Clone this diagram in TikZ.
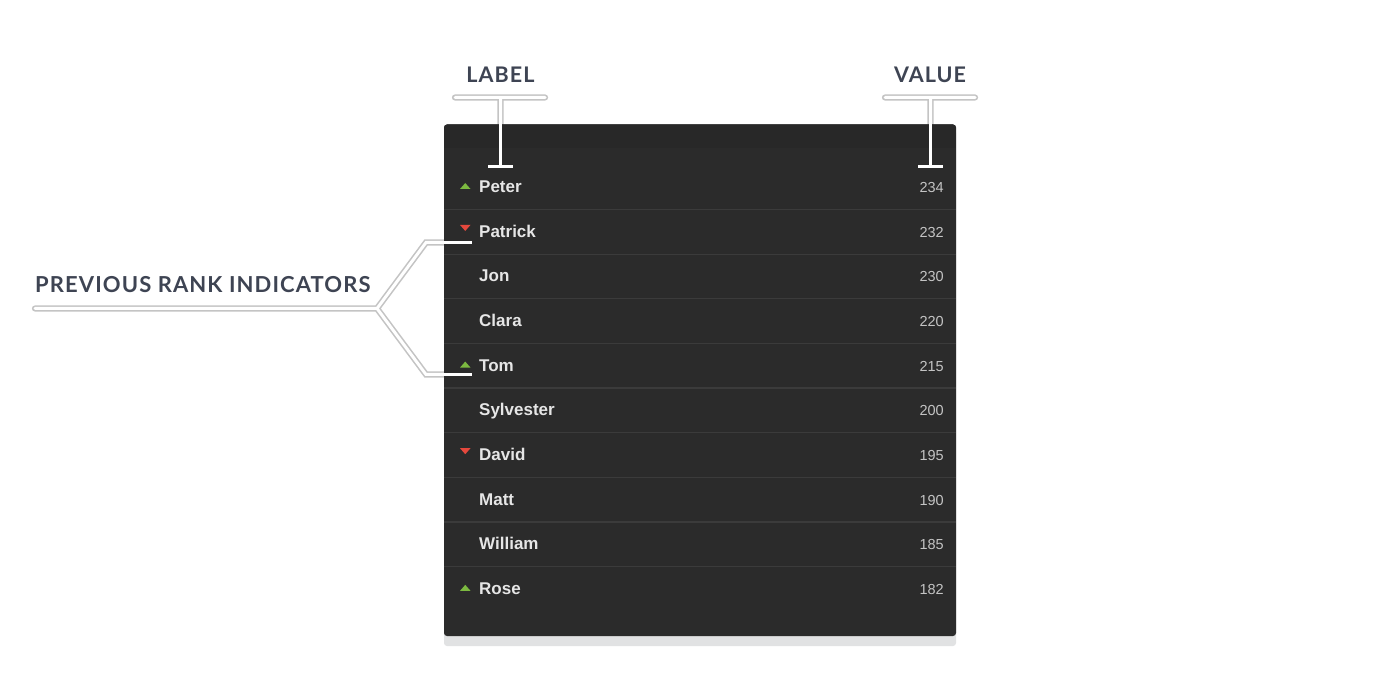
\documentclass[tikz,border=0pt]{standalone}
\usepackage{fontspec}
\setmainfont{Liberation Sans}
\newfontfamily\headfont{Lato}[LetterSpace=5.0]
\definecolor{panel}{HTML}{2B2B2B}
\definecolor{topband}{HTML}{282828}
\definecolor{sepc}{HTML}{3B3B3B}
\definecolor{headtxt}{HTML}{3E4453}
\definecolor{bracket}{HTML}{C4C4C4}
\definecolor{upg}{HTML}{7CB940}
\definecolor{downr}{HTML}{E5483D}
\definecolor{nametxt}{HTML}{E6E6E6}
\definecolor{valtxt}{HTML}{C4C4C4}
\definecolor{shadowc}{HTML}{E1E2E3}
\tikzset{
  brk/.style={line width=6.2pt, draw=bracket, line cap=round, line join=miter},
  brkin/.style={line width=3.0pt, draw=white, line cap=round, line join=miter},
  solidw/.style={line width=3.3pt, draw=white},
  head/.style={text=headtxt, inner sep=0pt, font=\headfont\bfseries\fontsize{21.5}{21.5}\selectfont},
  namelbl/.style={text=nametxt, inner sep=0pt, anchor=base west, font=\bfseries\fontsize{17}{17}\selectfont},
  vallbl/.style={text=valtxt, inner sep=0pt, anchor=base east, font=\fontsize{14.5}{14.5}\selectfont},
  rowsep/.style={draw=sepc, line width=1.2pt},
  uptri/.style={fill=upg},
  downtri/.style={fill=downr},
}
\begin{document}
\begin{tikzpicture}[x=1pt,y=-1pt]
\useasboundingbox (0,0) rectangle (1400,700);
\fill[white] (0,0) rectangle (1400,700);

% header labels
\node[head, anchor=base] (lab) at (500.5,82.5) {LABEL};
\node[head, anchor=base] (val) at (930,82.5) {VALUE};
\node[head, anchor=base west, font=\headfont\bfseries\fontsize{22}{22}\selectfont] (prev) at (35,293) {PREVIOUS RANK INDICATORS};

% bracket coordinates
\coordinate (lbL) at (455,97.5);
\coordinate (lbR) at (545,97.5);
\coordinate (lbT) at (500.5,97.5);
\coordinate (lbB) at (500.5,166.5);
\coordinate (lbP) at (500.5,124);
\coordinate (lbBL) at (488,166.5);
\coordinate (lbBR) at (513,166.5);

\coordinate (vbL) at (885,97.5);
\coordinate (vbR) at (975,97.5);
\coordinate (vbT) at (930.5,97.5);
\coordinate (vbB) at (930.5,166.5);
\coordinate (vbP) at (930.5,124);
\coordinate (vbBL) at (918,166.5);
\coordinate (vbBR) at (943,166.5);

\coordinate (pL) at (35,308.5);
\coordinate (pJ) at (377,308.5);
\coordinate (pU1) at (426,242.5);
\coordinate (pU2) at (446,242.5);
\coordinate (pUe) at (444,242.5);
\coordinate (pUt) at (472,242.5);
\coordinate (pD1) at (426,374.5);
\coordinate (pD2) at (446,374.5);
\coordinate (pDe) at (444,374.5);
\coordinate (pDt) at (472,374.5);

% outlined brackets
\draw[brk] (lbL) -- (lbR) (lbT) -- (lbB) (vbL) -- (vbR) (vbT) -- (vbB)
  (pU2) -- (pU1) -- (pJ) -- (pL) (pJ) -- (pD1) -- (pD2);
\draw[brkin] (lbL) -- (lbR) (lbT) -- (lbB) (vbL) -- (vbR) (vbT) -- (vbB)
  (pU2) -- (pU1) -- (pJ) -- (pL) (pJ) -- (pD1) -- (pD2);

% panel
\fill[shadowc, rounded corners=3pt] (444,130) rectangle (956,646);
\fill[panel, rounded corners=3pt] (444,124.5) rectangle (956,636);
\begin{scope}
  \clip[rounded corners=3pt] (444,124.5) rectangle (956,636);
  \fill[topband] (444,124) rectangle (956,148);
\end{scope}

% separators
\foreach \i in {0,...,8}{
  \pgfmathsetmacro\sy{209.5+44.65*\i}
  \draw[rowsep] (444,\sy) -- (956,\sy);
}

% rows
\foreach \n/\v/\t [count=\i from 0] in {Peter/234/u, Patrick/232/d, Jon/230/n, Clara/220/n, Tom/215/u, Sylvester/200/n, David/195/d, Matt/190/n, William/185/n, Rose/182/u}{
  \pgfmathsetmacro\b{192.7+44.65*\i}
  \node[namelbl] (name\i) at (479,\b) {\n};
  \node[vallbl] (val\i) at (944,\b) {\v};
  \if u\t
    \fill[uptri] (460,\b-3.7) -- (470.5,\b-3.7) -- (465.25,\b-9.7) -- cycle;
  \fi
  \if d\t
    \fill[downtri] (460,\b-12.4) -- (470.5,\b-12.4) -- (465.25,\b-6.4) -- cycle;
  \fi
}

% solid white pointers inside panel
\draw[solidw] (lbP) -- (lbB) (lbBL) -- (lbBR);
\draw[solidw] (vbP) -- (vbB) (vbBL) -- (vbBR);
\draw[solidw] (pUe) -- (pUt) (pDe) -- (pDt);
\end{tikzpicture}
\end{document}
